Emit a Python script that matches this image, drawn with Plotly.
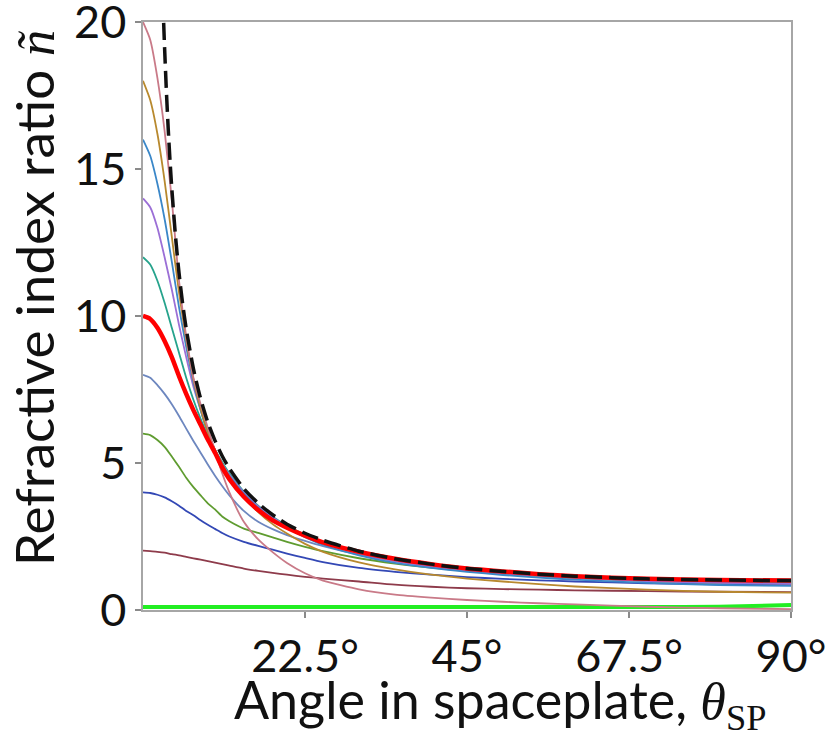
import plotly.graph_objects as go

# Angle grid (degrees) shared by the family of index-ratio curves
theta = [0, 1, 2, 3, 4, 5, 6, 7, 8, 9, 10, 11, 12, 14, 16, 18, 20, 22.5, 25,
         30, 35, 40, 45, 50, 55, 60, 70, 80, 90]

n20 = [20.0, 19.4, 18.1, 16.3, 13.95, 11.2, 9.3, 7.9, 7.0, 6.2, 5.4, 4.65, 4.0,
       3.0, 2.4, 1.97, 1.6, 1.25, 1.0, 0.7, 0.52, 0.42, 0.34, 0.28, 0.23, 0.19,
       0.11, 0.06, 0.03]
n18 = [18.0, 17.35, 16.2, 14.6, 12.7, 10.8, 9.2, 7.85, 6.85, 6.05, 5.45, 4.95,
       4.52, 3.85, 3.33, 2.92, 2.6, 2.25, 1.98, 1.62, 1.38, 1.2, 1.07, 0.97,
       0.88, 0.8, 0.69, 0.62, 0.59]
n16 = [16.0, 15.45, 14.5, 13.3, 11.85, 10.3, 8.95, 7.75, 6.8, 6.02, 5.42, 4.95,
       4.56, 3.96, 3.48, 3.1, 2.8, 2.48, 2.22, 1.86, 1.6, 1.43, 1.3, 1.19, 1.1,
       1.03, 0.92, 0.85, 0.82]
n14 = [14.0, 13.7, 13.0, 12.0, 10.9, 9.7, 8.6, 7.6, 6.8, 6.05, 5.45, 4.98, 4.6,
       4.0, 3.52, 3.15, 2.85, 2.53, 2.28, 1.92, 1.66, 1.48, 1.35, 1.24, 1.16,
       1.09, 0.98, 0.92, 0.89]
n12 = [12.0, 11.75, 11.2, 10.45, 9.6, 8.75, 7.9, 7.15, 6.5, 5.92, 5.45, 5.03,
       4.65, 4.03, 3.55, 3.17, 2.87, 2.56, 2.32, 1.96, 1.7, 1.52, 1.38, 1.27,
       1.18, 1.11, 1.0, 0.94, 0.92]
n10 = [10.0, 9.9, 9.6, 9.15, 8.6, 7.95, 7.35, 6.8, 6.3, 5.8, 5.35, 4.85, 4.45,
       3.85, 3.4, 3.05, 2.8, 2.53, 2.3, 1.98, 1.74, 1.56, 1.41, 1.31, 1.22,
       1.15, 1.06, 1.02, 1.0]
n8 = [8.0, 7.9, 7.65, 7.35, 7.0, 6.6, 6.17, 5.75, 5.35, 4.95, 4.57, 4.22, 3.9,
      3.37, 3.0, 2.75, 2.55, 2.35, 2.17, 1.88, 1.66, 1.5, 1.37, 1.27, 1.19,
      1.12, 1.02, 0.97, 0.95]
n6 = [6.0, 5.95, 5.78, 5.55, 5.22, 4.87, 4.5, 4.18, 3.9, 3.63, 3.42, 3.18, 3.02,
      2.77, 2.62, 2.47, 2.32, 2.15, 2.0, 1.76, 1.58, 1.44, 1.33, 1.23, 1.15,
      1.09, 0.98, 0.92, 0.9]
n4 = [4.0, 3.98, 3.92, 3.83, 3.7, 3.55, 3.37, 3.22, 3.05, 2.9, 2.76, 2.62, 2.5,
      2.32, 2.18, 2.05, 1.92, 1.77, 1.63, 1.43, 1.3, 1.2, 1.12, 1.06, 1.01,
      0.97, 0.91, 0.87, 0.86]
n2 = [2.02, 2.0, 1.98, 1.95, 1.9, 1.86, 1.81, 1.76, 1.71, 1.66, 1.61, 1.56, 1.51,
      1.41, 1.33, 1.26, 1.2, 1.13, 1.07, 0.97, 0.86, 0.79, 0.74, 0.71, 0.69,
      0.67, 0.64, 0.62, 0.61]
n_low = [0.1, 0.1, 0.1, 0.1, 0.1, 0.1, 0.1, 0.1, 0.1, 0.1, 0.1, 0.1, 0.1, 0.1,
         0.1, 0.1, 0.1, 0.1, 0.1, 0.1, 0.1, 0.1, 0.1, 0.1, 0.1, 0.1, 0.1, 0.11,
         0.17]

# Limiting curve (1/sin theta), drawn dashed
limit_theta = [2.87, 3, 3.25, 3.5, 3.75, 4, 4.5, 5, 5.5, 6, 7, 8, 9, 10, 11, 12,
               14, 16, 18, 20, 22.5, 25, 30, 35, 40, 45, 50, 55, 60, 70, 80, 90]
limit_n = [19.97, 19.11, 17.64, 16.38, 15.29, 14.34, 12.75, 11.47, 10.43, 9.57,
           8.21, 7.19, 6.39, 5.76, 5.24, 4.81, 4.13, 3.63, 3.24, 2.92, 2.61,
           2.37, 2.00, 1.74, 1.56, 1.41, 1.31, 1.22, 1.15, 1.06, 1.02, 1.00]

x_tick_vals = [22.5, 45, 67.5, 90]
x_tick_text = ["22.5°", "45°", "67.5°", "90°"]
y_tick_vals = [0, 5, 10, 15, 20]

# (series, colour, width) in drawing order, bottom to top
curves = [
    (n_low, "#22ee22", 4.0),
    (n2, "#8e3b4b", 1.8),
    (n4, "#3348b5", 1.8),
    (n6, "#5f9c30", 1.8),
    (n8, "#6d87bf", 1.8),
    (n12, "#26a38c", 1.8),
    (n14, "#9b6fd6", 1.8),
    (n16, "#3a87c8", 1.8),
    (n18, "#b8892e", 1.8),
    (n20, "#c97a88", 1.8),
    (n10, "#ff0000", 4.5),
]

fig = go.Figure()
for values, colour, width in curves:
    fig.add_trace(go.Scatter(
        x=theta, y=values, mode="lines",
        line=dict(color=colour, width=width, shape="spline", smoothing=0.6),
        hoverinfo="skip", showlegend=False,
    ))

fig.add_trace(go.Scatter(
    x=limit_theta, y=limit_n, mode="lines",
    line=dict(color="#111111", width=3.5, dash="17px,7px", shape="spline",
              smoothing=0.6),
    hoverinfo="skip", showlegend=False,
))

axis_common = dict(
    showgrid=False, zeroline=False, showline=True, mirror=True,
    linecolor="#a6a6a6", linewidth=1.5,
    ticks="outside", ticklen=6, tickcolor="#8a8a8a", tickwidth=1.5,
    tickfont=dict(family="Lato", size=45, color="#111111"),
    ticklabeloverflow="allow", automargin=False,
)

fig.update_xaxes(range=[0, 90], tickvals=x_tick_vals, ticktext=x_tick_text,
                 **axis_common)
fig.update_yaxes(range=[0, 20], tickvals=y_tick_vals, **axis_common)

fig.add_annotation(
    text='Angle in spaceplate, <span style="font-family:Liberation Serif">'
         '<i>θ</i><sub>SP</sub></span>',
    xref="paper", yref="paper", x=0.551, y=-0.159,
    xanchor="center", yanchor="middle", showarrow=False,
    font=dict(family="Lato", size=52, color="#111111"),
)
fig.add_annotation(
    text='Refractive index ratio <span style="font-family:Liberation Serif">'
         '<i>ñ</i></span>',
    xref="paper", yref="paper", x=-0.1698, y=0.5306, textangle=-90,
    xanchor="center", yanchor="middle", showarrow=False,
    font=dict(family="Lato", size=53, color="#111111"),
)

fig.update_layout(
    width=831, height=740,
    margin=dict(l=143, r=40, t=22, b=130),
    paper_bgcolor="white", plot_bgcolor="white",
)

fig.write_html("out.html")
